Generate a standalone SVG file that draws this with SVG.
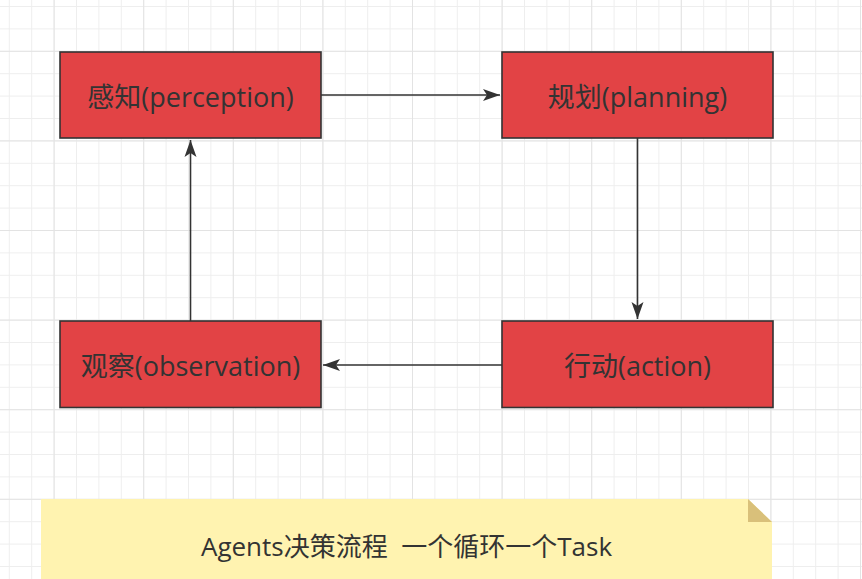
<svg xmlns="http://www.w3.org/2000/svg" width="862" height="579" viewBox="0 0 862 579">
<style>
.node rect{fill:#e24345;stroke:#333;stroke-width:1.6}
.node text{font-family:"Open Sans","Noto Sans CJK SC",sans-serif;font-size:27px;fill:#333;text-anchor:middle;dominant-baseline:central}
.edge{stroke:#333;stroke-width:1.6;fill:none;marker-end:url(#arr)}
.note text{font-family:"Open Sans","Noto Sans CJK SC",sans-serif;font-size:26px;fill:#333;text-anchor:middle;dominant-baseline:central;white-space:pre}
</style>
<defs>
<pattern id="minor" patternUnits="userSpaceOnUse" x="8.8" y="6" width="22.4" height="22.4">
<path d="M0,0 H22.4 M0,0 V22.4" stroke="#eeeeee" stroke-width="2" fill="none"/>
</pattern>
<pattern id="major" patternUnits="userSpaceOnUse" x="53.6" y="50.8" width="89.6" height="89.6">
<path d="M0,0 H89.6 M0,0 V89.6" stroke="#e3e3e3" stroke-width="2" fill="none"/>
</pattern>
<marker id="arr" markerUnits="userSpaceOnUse" markerWidth="18" markerHeight="13" refX="17" refY="6.5" orient="auto">
<path d="M0,0.5 L17,6.5 L0,12.5 L4,6.5 Z" fill="#333"/>
</marker>
</defs>
<rect width="862" height="579" fill="#ffffff"/>
<rect width="862" height="579" fill="url(#minor)"/>
<rect width="862" height="579" fill="url(#major)"/>
<g id="connectors">
<path class="edge" d="M321,95 H500"/>
<path class="edge" d="M637.5,138 V319"/>
<path class="edge" d="M502,365 H323"/>
<path class="edge" d="M190.5,321 V140"/>
</g>
<g id="perception" class="node">
<rect x="60" y="52" width="261" height="86"/>
<text x="190.5" y="96">感知(perception)</text>
</g>
<g id="planning" class="node">
<rect x="502" y="52" width="271" height="86"/>
<text x="637.5" y="96">规划(planning)</text>
</g>
<g id="action" class="node">
<rect x="502" y="321" width="271" height="86.5"/>
<text x="637.5" y="365">行动(action)</text>
</g>
<g id="observation" class="node">
<rect x="60" y="321" width="261" height="86.5"/>
<text x="190.5" y="365">观察(observation)</text>
</g>
<g id="note" class="note">
<path d="M41,499 H748 L772,522 V579 H41 Z" fill="#fff3b0"/>
<path d="M748,499 L772,522 H748 Z" fill="#d9c07a"/>
<text x="406.5" y="546" xml:space="preserve">Agents决策流程  一个循环一个Task</text>
</g>
</svg>
